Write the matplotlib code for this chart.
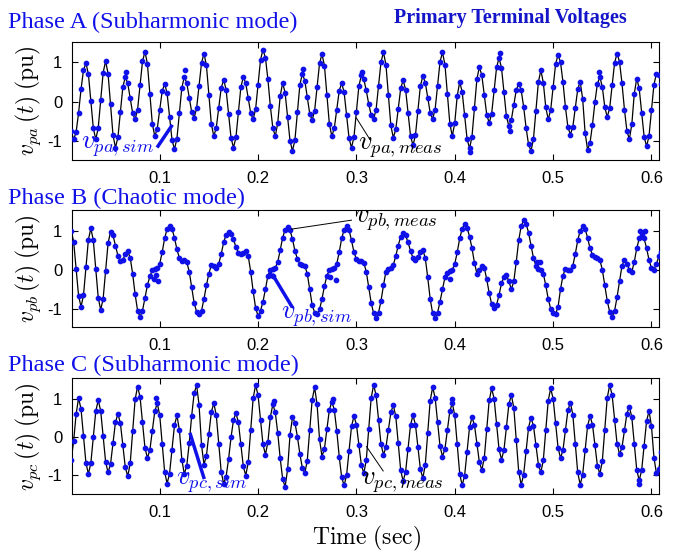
import numpy as np
import matplotlib
matplotlib.use('Agg')
import matplotlib.pyplot as plt

va_meas = [-0.75, -0.95, -0.77, -0.29, 0.31, 0.79, 0.97, 0.69, 0.01, -0.67,
           -0.95, -0.66, 0.04, 0.73, 1.02, 0.70, -0.07, -0.84, -1.16, -0.90,
           -0.27, 0.36, 0.62, 0.46, 0.09, -0.29, -0.45, -0.20, 0.41, 1.01,
           1.26, 0.95, 0.20, -0.56, -0.87, -0.68, -0.21, 0.26, 0.45, 0.21,
           -0.38, -0.96, -1.20, -0.93, -0.29, 0.35, 0.62, 0.47, 0.10, -0.26,
           -0.41, -0.17, 0.40, 0.97, 1.21, 0.91, 0.17, -0.57, -0.87, -0.66,
           -0.16, 0.34, 0.55, 0.30, -0.31, -0.91, -1.16, -0.90, -0.27, 0.36,
           0.62, 0.46, 0.09, -0.29, -0.45, -0.19, 0.43, 1.05, 1.31, 1.10,
           0.56, -0.12, -0.66, -0.87, -0.54, 0.14, 0.47, 0.22, -0.39, -0.99,
           -1.24, -0.96, -0.27, 0.42, 0.70, 0.53, 0.12, -0.30, -0.47, -0.23,
           0.37, 0.96, 1.20, 0.90, 0.17, -0.57, -0.87, -0.67, -0.20, 0.27,
           0.47, 0.23, -0.35, -0.92, -1.16, -0.89, -0.25, 0.39, 0.66, 0.56,
           0.28, -0.06, -0.34, -0.44, -0.20, 0.40, 1.00, 1.24, 0.93, 0.17,
           -0.60, -0.91, -0.70, -0.19, 0.33, 0.54, 0.30, -0.28, -0.86, -1.10,
           -0.85, -0.23, 0.39, 0.64, 0.48, 0.10, -0.28, -0.44, -0.20, 0.40,
           1.00, 1.24, 0.93, 0.19, -0.56, -0.87, -0.53, 0.15, 0.49, 0.25,
           -0.35, -0.94, -1.18, -0.88, -0.16, 0.57, 0.87, 0.66, 0.17, -0.33,
           -0.54, -0.30, 0.28, 0.86, 1.10, 0.85, 0.24, -0.37, -0.62, -0.46,
           -0.09, 0.29, 0.45, 0.29, -0.13, -0.66, -1.08, -1.24, -0.94, -0.23,
           0.49, 0.79, 0.48, -0.14, -0.45, -0.21, 0.37, 0.94, 1.18, 0.99,
           0.49, -0.14, -0.64, -0.83, -0.64, -0.17, 0.31, 0.50, 0.07, -0.78,
           -1.21, -1.04, -0.58, -0.01, 0.45, 0.62, 0.37, -0.14, -0.39, -0.16,
           0.41, 0.98, 1.21, 1.00, 0.46, -0.20, -0.74, -0.95, -0.57, 0.20,
           0.58, 0.33, -0.28, -0.88, -1.13, -0.86, -0.21, 0.43, 0.70, 0.66,
           0.45]

vb_meas = [1.00, 0.72, 0.03, -0.67, -0.95, -0.66, 0.06, 0.77, 1.06, 0.75,
           0.02, -0.72, -1.03, -0.74, -0.03, 0.68, 0.97, 0.88, 0.62, 0.36,
           0.22, 0.25, 0.40, 0.47, 0.31, -0.11, -0.63, -1.05, -1.21, -1.05,
           -0.72, -0.40, -0.17, -0.02, 0.02, 0.04, 0.15, 0.45, 0.80, 1.05,
           1.12, 1.05, 0.82, 0.52, 0.30, 0.22, 0.24, 0.20, -0.05, -0.45,
           -0.85, -1.08, -1.14, -1.05, -0.75, -0.40, -0.10, 0.12, 0.10, 0.05,
           0.15, 0.40, 0.70, 0.90, 0.97, 0.92, 0.78, 0.58, 0.44, 0.40,
           0.44, 0.48, 0.35, -0.05, -0.55, -0.98, -1.19, -1.05, -0.82, -0.50,
           -0.15, 0.00, 0.02, 0.05, 0.20, 0.50, 0.82, 1.03, 1.10, 1.02,
           0.78, 0.48, 0.28, 0.15, 0.12, 0.10, -0.10, -0.50, -0.90, -1.10,
           -1.14, -1.02, -0.75, -0.42, -0.15, -0.02, 0.02, 0.05, 0.15, 0.45,
           0.80, 1.03, 1.12, 1.02, 0.75, 0.45, 0.27, 0.22, 0.23, 0.18,
           -0.05, -0.45, -0.85, -1.12, -1.23, -1.10, -0.80, -0.40, -0.05, 0.02,
           0.04, 0.12, 0.35, 0.62, 0.85, 0.95, 0.88, 0.70, 0.48, 0.30,
           0.25, 0.32, 0.45, 0.51, 0.30, -0.20, -0.75, -1.12, -1.23, -1.10,
           -0.82, -0.50, -0.20, -0.08, -0.04, 0.00, 0.15, 0.45, 0.80, 1.05,
           1.18, 1.08, 0.85, 0.55, 0.18, -0.10, 0.00, 0.10, 0.05, -0.25,
           -0.60, -0.88, -0.97, -0.90, -0.65, -0.35, -0.18, -0.13, -0.30, -0.50,
           -0.30, 0.20, 0.75, 1.12, 1.27, 1.18, 0.95, 0.62, 0.30, 0.10,
           0.03, 0.00, -0.10, -0.40, -0.75, -1.00, -1.12, -1.14, -0.95, -0.50,
           -0.15, 0.03, 0.00, -0.02, 0.10, 0.40, 0.75, 1.00, 1.12, 1.05,
           0.82, 0.55, 0.38, 0.32, 0.30, 0.25, 0.00, -0.40, -0.80, -1.08,
           -1.21, -1.05, -0.70, -0.30, 0.10, 0.25, 0.15, 0.00, -0.05, 0.20,
           0.55, 0.80, 0.89, 0.80, 0.55, 0.25, 0.04, 0.00, 0.15, 0.34,
           0.45]

vc_meas = [-0.60, -0.10, 0.60, 1.03, 0.74, 0.03, -0.68, -0.97, -0.68, 0.00,
           0.68, 0.97, 0.69, 0.02, -0.65, -0.93, -0.71, -0.16, 0.39, 0.61,
           0.37, -0.21, -0.79, -1.03, -0.69, 0.15, 0.99, 1.33, 1.06, 0.39,
           -0.28, -0.55, -0.34, 0.17, 0.68, 0.89, 0.58, -0.17, -0.91, -1.22,
           -0.96, -0.33, 0.31, 0.57, 0.19, -0.59, -0.97, -0.75, -0.16, 0.56,
           1.15, 1.37, 0.85, -0.20, -0.72, -0.49, 0.09, 0.66, 0.89, 0.58,
           -0.17, -0.91, -1.22, -1.04, -0.58, -0.01, 0.45, 0.63, 0.39, -0.19,
           -0.77, -1.01, -0.66, 0.18, 1.02, 1.37, 1.10, 0.46, -0.19, -0.46,
           -0.13, 0.53, 0.86, 0.65, 0.11, -0.56, -1.10, -1.31, -0.85, 0.06,
           0.52, 0.38, 0.01, -0.44, -0.81, -0.95, -0.62, 0.18, 0.98, 1.31,
           0.86, -0.06, -0.51, -0.30, 0.21, 0.72, 0.93, 0.72, 0.17, -0.51,
           -1.06, -1.27, -1.00, -0.36, 0.28, 0.55, 0.33, -0.20, -0.73, -0.95,
           -0.61, 0.21, 1.03, 1.37, 1.10, 0.46, -0.19, -0.46, -0.27, 0.19,
           0.65, 0.84, 0.55, -0.16, -0.87, -1.16, -0.91, -0.30, 0.32, 0.57,
           0.33, -0.26, -0.84, -1.08, -0.73, 0.12, 0.96, 1.31, 1.04, 0.40,
           -0.24, -0.51, -0.31, 0.19, 0.69, 0.89, 0.57, -0.19, -0.96, -1.27,
           -1.01, -0.38, 0.26, 0.52, 0.32, -0.17, -0.66, -0.86, -0.55, 0.21,
           0.97, 1.28, 1.01, 0.35, -0.32, -0.59, -0.34, 0.26, 0.86, 1.11,
           0.77, -0.07, -0.91, -1.25, -0.99, -0.37, 0.25, 0.51, 0.30, -0.21,
           -0.72, -0.93, -0.61, 0.18, 0.96, 1.28, 1.01, 0.37, -0.28, -0.55,
           -0.34, 0.18, 0.70, 0.91, 0.59, -0.17, -0.93, -1.25, -0.99, -0.35,
           0.29, 0.55, 0.33, -0.21, -0.75, -0.97, -0.63, 0.20, 1.03, 1.37,
           1.10, 0.46, -0.18, -0.45, -0.27, 0.18, 0.62, 0.80, 0.52, -0.17,
           -0.86, -1.14, -0.87, -0.23, 0.42, 0.69, 0.28, -0.54, -0.95, -0.85,
           -0.40]

# simulated samples that sit off the measured trace
a_sim_t = [0.0655, 0.1254, 0.2458, 0.3052, 0.4154, 0.4459, 0.4560, 0.5469]
a_sim_v = [0.74, 0.80, 0.83, 0.74, -1.28, 1.22, -0.74, 0.74]
b_sim_t = [0.0942, 0.0967, 0.0983, 0.2119, 0.2153, 0.2729, 0.2797, 0.3950,
           0.4831, 0.4865, 0.5887, 0.5938]
b_sim_v = [-0.24, -0.13, -0.30, -0.13, -0.15, -0.19, -0.27, -0.25,
           0.19, 0.19, 1.00, 1.00]
c_sim_t = [0.0967, 0.2160, 0.2763, 0.3967, 0.5873]
c_sim_v = [1.03, 0.95, 1.00, 1.00, -1.22]

t_first, t_last = 0.010, 0.610
xticks = [0.1, 0.2, 0.3, 0.4, 0.5, 0.6]
yticks = [-1, 0, 1]

plt.rcParams['mathtext.fontset'] = 'cm'
plt.rcParams['font.family'] = 'Liberation Sans'

blue = '#1010e8'
fig = plt.figure(figsize=(6.79, 5.54), dpi=100)

panels = [
    ('a', va_meas, a_sim_t, a_sim_v, [0.106, 0.7112, 0.8645, 0.2130], (-1.47, 1.5), 'Phase A (Subharmonic mode)', 0.960),
    ('b', vb_meas, b_sim_t, b_sim_v, [0.106, 0.4097, 0.8645, 0.2112], (-1.47, 1.53), 'Phase B (Chaotic mode)', 0.6426),
    ('c', vc_meas, c_sim_t, c_sim_v, [0.106, 0.1080, 0.8645, 0.2094], (-1.50, 1.55), 'Phase C (Subharmonic mode)', 0.341),
]

axes = []
for ph, vals, st, sv, rect, ylim, title, ty in panels:
    ax = fig.add_axes(rect)
    t = np.linspace(t_first, t_last, len(vals))
    ax.plot(t, vals, color='black', lw=0.9, zorder=2)
    ax.plot(t, vals, ls='none', marker='o', ms=3.1, color=blue, mec=blue, zorder=3)
    ax.plot(st, sv, ls='none', marker='o', ms=3.1, color=blue, mec=blue, zorder=3)
    ax.set_xlim(0.0108, 0.6076)
    ax.set_ylim(*ylim)
    ax.set_xticks(xticks)
    ax.set_xticklabels(['%.1f' % x for x in xticks])
    ax.set_yticks(yticks)
    ax.set_yticklabels(['%d' % y for y in yticks])
    ax.tick_params(direction='in', top=True, right=True, length=4, width=0.8, labelsize=12)
    ax.tick_params(axis='x', pad=8)
    ax.tick_params(axis='y', pad=7)
    ax.set_ylabel(r'$v_{p%s}\,(t)\;\mathrm{(pu)}$' % ph, fontsize=17, labelpad=3)
    fig.text(0.012, ty, title, color=blue, fontsize=17.5, family='Liberation Serif', va='center', ha='left')
    axes.append(ax)

ax_a, ax_b, ax_c = axes

# label pointers
ax_a.plot([0.0983, 0.1119], [-1.12, -0.62], color=blue, lw=2.5, zorder=4)
ax_a.text(0.0195, -1.13, r'$v_{pa,sim}$', color=blue, fontsize=19, va='center', ha='left')
ax_a.plot([0.2999, 0.3136], [-0.41, -0.95], color='black', lw=0.7, zorder=4)
ax_a.text(0.3020, -1.17, r'$v_{pa,meas}$', color='black', fontsize=19, va='center', ha='left')

ax_b.plot([0.234, 0.295], [1.04, 1.27], color='black', lw=0.7, zorder=4)
ax_b.text(0.2990, 1.25, r'$v_{pb,meas}$', color='black', fontsize=19, va='center', ha='left')
ax_b.plot([0.2153, 0.2340], [-0.15, -0.93], color=blue, lw=2.5, zorder=4)
ax_b.text(0.2230, -1.20, r'$v_{pb,sim}$', color=blue, fontsize=19, va='center', ha='left')

ax_c.plot([0.1312, 0.1448], [0.07, -1.06], color=blue, lw=2.5, zorder=4)
ax_c.text(0.1170, -1.20, r'$v_{pc,sim}$', color=blue, fontsize=19, va='center', ha='left')
ax_c.plot([0.3103, 0.3272], [-0.25, -0.89], color='black', lw=0.7, zorder=4)
ax_c.text(0.3050, -1.20, r'$v_{pc,meas}$', color='black', fontsize=19, va='center', ha='left')

# x label placed by figure coordinates so the parentheses stay inside the canvas
fig.text(0.5395, 0.0175, r'$\mathrm{Time\ (sec)}$', fontsize=17, ha='center', va='baseline')

fig.text(0.751, 0.9675, 'Primary Terminal Voltages', color='#1414c8', fontsize=14.5,
         fontweight='bold', family='Liberation Serif', ha='center', va='center')

fig.savefig('out.png', dpi=100)
